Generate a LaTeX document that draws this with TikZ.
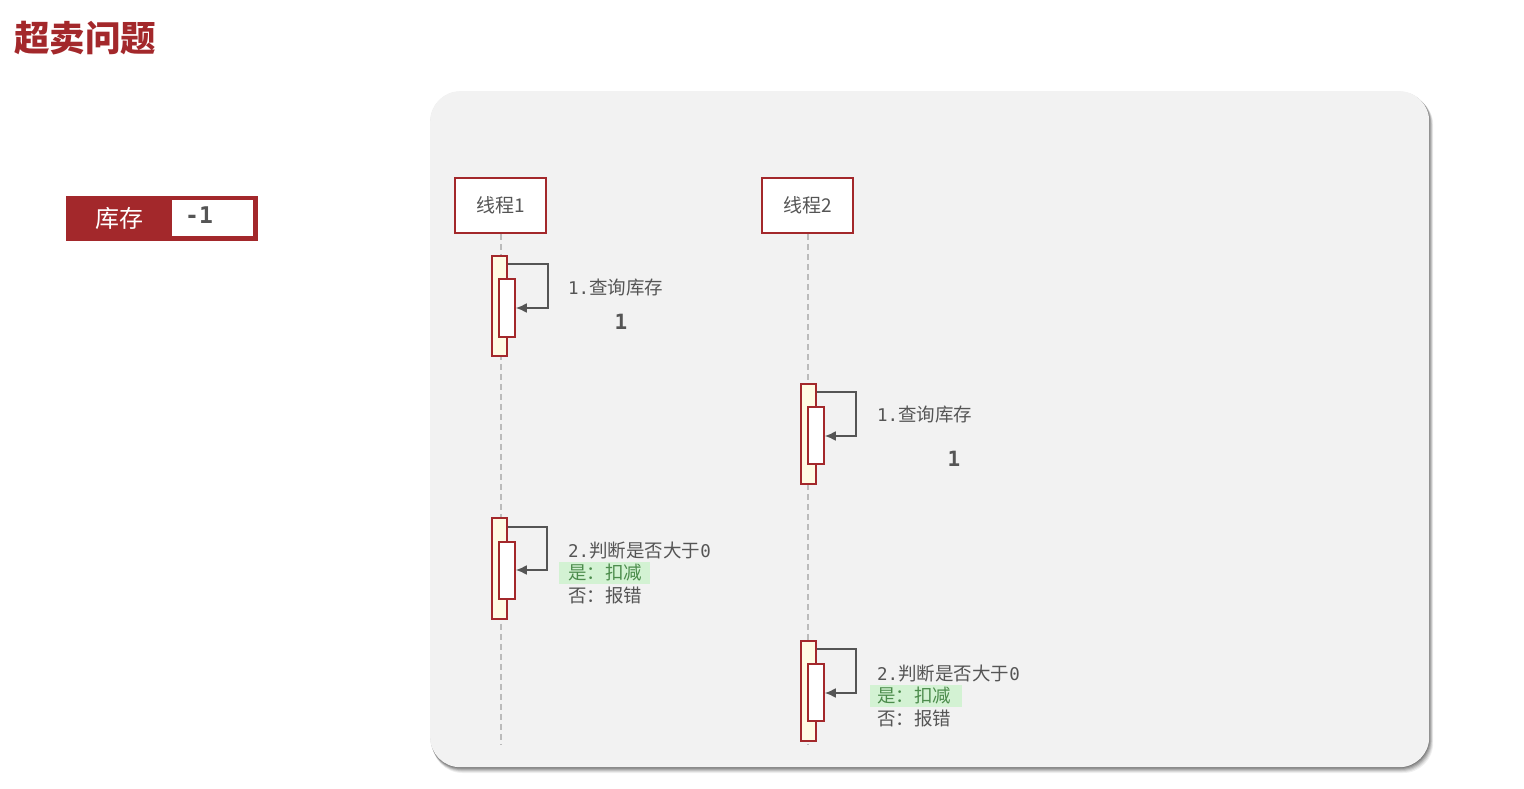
\documentclass[tikz,border=0pt]{standalone}
\usepackage{fontspec}
\setmainfont{Noto Sans CJK SC}
\newfontfamily\cjk{Noto Sans CJK SC}
\newfontfamily\monof{DejaVu Sans Mono}
\definecolor{darkred}{HTML}{A3282B}
\definecolor{panelbg}{HTML}{F2F2F2}
\definecolor{txtgray}{HTML}{555555}
\definecolor{actfill}{HTML}{FFFBE3}
\definecolor{hlgreen}{HTML}{D3F2D3}
\definecolor{txtgreen}{HTML}{4C8C4C}
\definecolor{lifegray}{HTML}{BBBBBB}
\tikzset{
  threadbox/.style={draw=darkred, line width=1.5pt, fill=white, minimum width=91pt, minimum height=55pt, inner sep=0pt, text=txtgray, font=\cjk\fontsize{19}{22}\selectfont},
  actouter/.style={draw=darkred, line width=1.5pt, fill=actfill, minimum width=15pt, inner sep=0pt},
  actinner/.style={draw=darkred, line width=1.5pt, fill=white, minimum width=16pt, inner sep=0pt},
  lifeline/.style={draw=lifegray, line width=1.2pt, dash pattern=on 6pt off 4pt},
  selfmsg/.style={draw=txtgray, line width=2pt, -{Latex[length=11pt,width=10pt]}},
  lbl/.style={anchor=west, inner sep=0pt, text=txtgray, font=\cjk\fontsize{18.5}{21}\selectfont},
  val/.style={inner sep=0pt, text=txtgray, font=\monof\bfseries\fontsize{21}{24}\selectfont},
}
\newcommand{\mn}[1]{{\monof\fontsize{17.5}{21}\selectfont #1}}
\usetikzlibrary{arrows.meta}
\begin{document}
\begin{tikzpicture}[x=1pt,y=-1pt]
\useasboundingbox (0,0) rectangle (1524,789);
% title
\node[anchor=west, inner sep=0pt, text=darkred, font=\cjk\bfseries\fontsize{35.5}{40}\selectfont] (title) at (14,38) {超卖问题};
% stock box
\node[draw=darkred, fill=darkred, line width=0pt, minimum width=191pt, minimum height=44pt, inner sep=0pt, anchor=north west] (stock) at (66,196) {};
\node[fill=white, minimum width=81pt, minimum height=36pt, inner sep=0pt, anchor=north west] (stockval) at (172,200) {};
\node[text=white, inner sep=0pt, font=\cjk\fontsize{24}{28}\selectfont] (stocklbl) at (119,218) {库存};
\node[anchor=west, inner sep=0pt, text=txtgray, font=\monof\bfseries\fontsize{23}{26}\selectfont] (stocknum) at (185,215) {-1};
% panel shadow
\foreach \i/\op in {6/0.06,5/0.08,4/0.1,3/0.12,2/0.14,1/0.16}{
  \fill[black, opacity=\op, rounded corners=30pt] (430+\i*0.4,91+\i*0.7) rectangle (1429+\i*0.7,767+\i*1.0);
}
\node[fill=panelbg, rounded corners=30pt, minimum width=999pt, minimum height=676pt, inner sep=0pt, anchor=north west] (panel) at (430,91) {};
% threads
\node[threadbox] (t1) at (500.5,205.5) {线程1};
\node[threadbox] (t2) at (807.5,205.5) {线程2};
\coordinate (t1end) at (501,745);
\coordinate (t2end) at (808,745);
\draw[lifeline] (t1.south -| t1end) -- (t1end);
\draw[lifeline] (t2.south -| t2end) -- (t2end);
% thread 1, step 1
\node[actouter, minimum height=100pt] (a1o) at (499.5,306) {};
\node[actinner, minimum height=58pt] (a1i) at (507,308) {};
\draw[selfmsg] (a1o.east |- 0,264) -- (548,264) -- (548,308) -- (a1i.east |- 0,308);
\node[lbl] (l1) at (568,288) {\mn{1.}查询库存};
\node[val] (v1) at (621,322) {1};
% thread 2, step 1
\node[actouter, minimum height=100pt] (b1o) at (808.5,434) {};
\node[actinner, minimum height=57pt] (b1i) at (816,435.5) {};
\draw[selfmsg] (b1o.east |- 0,392) -- (856,392) -- (856,436) -- (b1i.east |- 0,436);
\node[lbl] (l2) at (877,415) {\mn{1.}查询库存};
\node[val] (v2) at (954,459) {1};
% thread 1, step 2
\node[actouter, minimum height=101pt] (a2o) at (499.5,568.5) {};
\node[actinner, minimum height=57pt] (a2i) at (507,570.5) {};
\draw[selfmsg] (a2o.east |- 0,527) -- (547,527) -- (547,570) -- (a2i.east |- 0,570);
\fill[hlgreen] (559,562) rectangle (650,584);
\node[lbl] (l3) at (568,551) {\mn{2.}判断是否大于\mn{0}};
\node[lbl, text=txtgreen] (l4) at (568,573) {是：扣减};
\node[lbl] (l5) at (568,595) {否：报错};
% thread 2, step 2
\node[actouter, minimum height=100pt] (b2o) at (808.5,691) {};
\node[actinner, minimum height=57pt] (b2i) at (816,692.5) {};
\draw[selfmsg] (b2o.east |- 0,649) -- (856,649) -- (856,693) -- (b2i.east |- 0,693);
\fill[hlgreen] (870,685) rectangle (962,707);
\node[lbl] (l6) at (877,674) {\mn{2.}判断是否大于\mn{0}};
\node[lbl, text=txtgreen] (l7) at (877,696) {是：扣减};
\node[lbl] (l8) at (877,718) {否：报错};
\end{tikzpicture}
\end{document}
